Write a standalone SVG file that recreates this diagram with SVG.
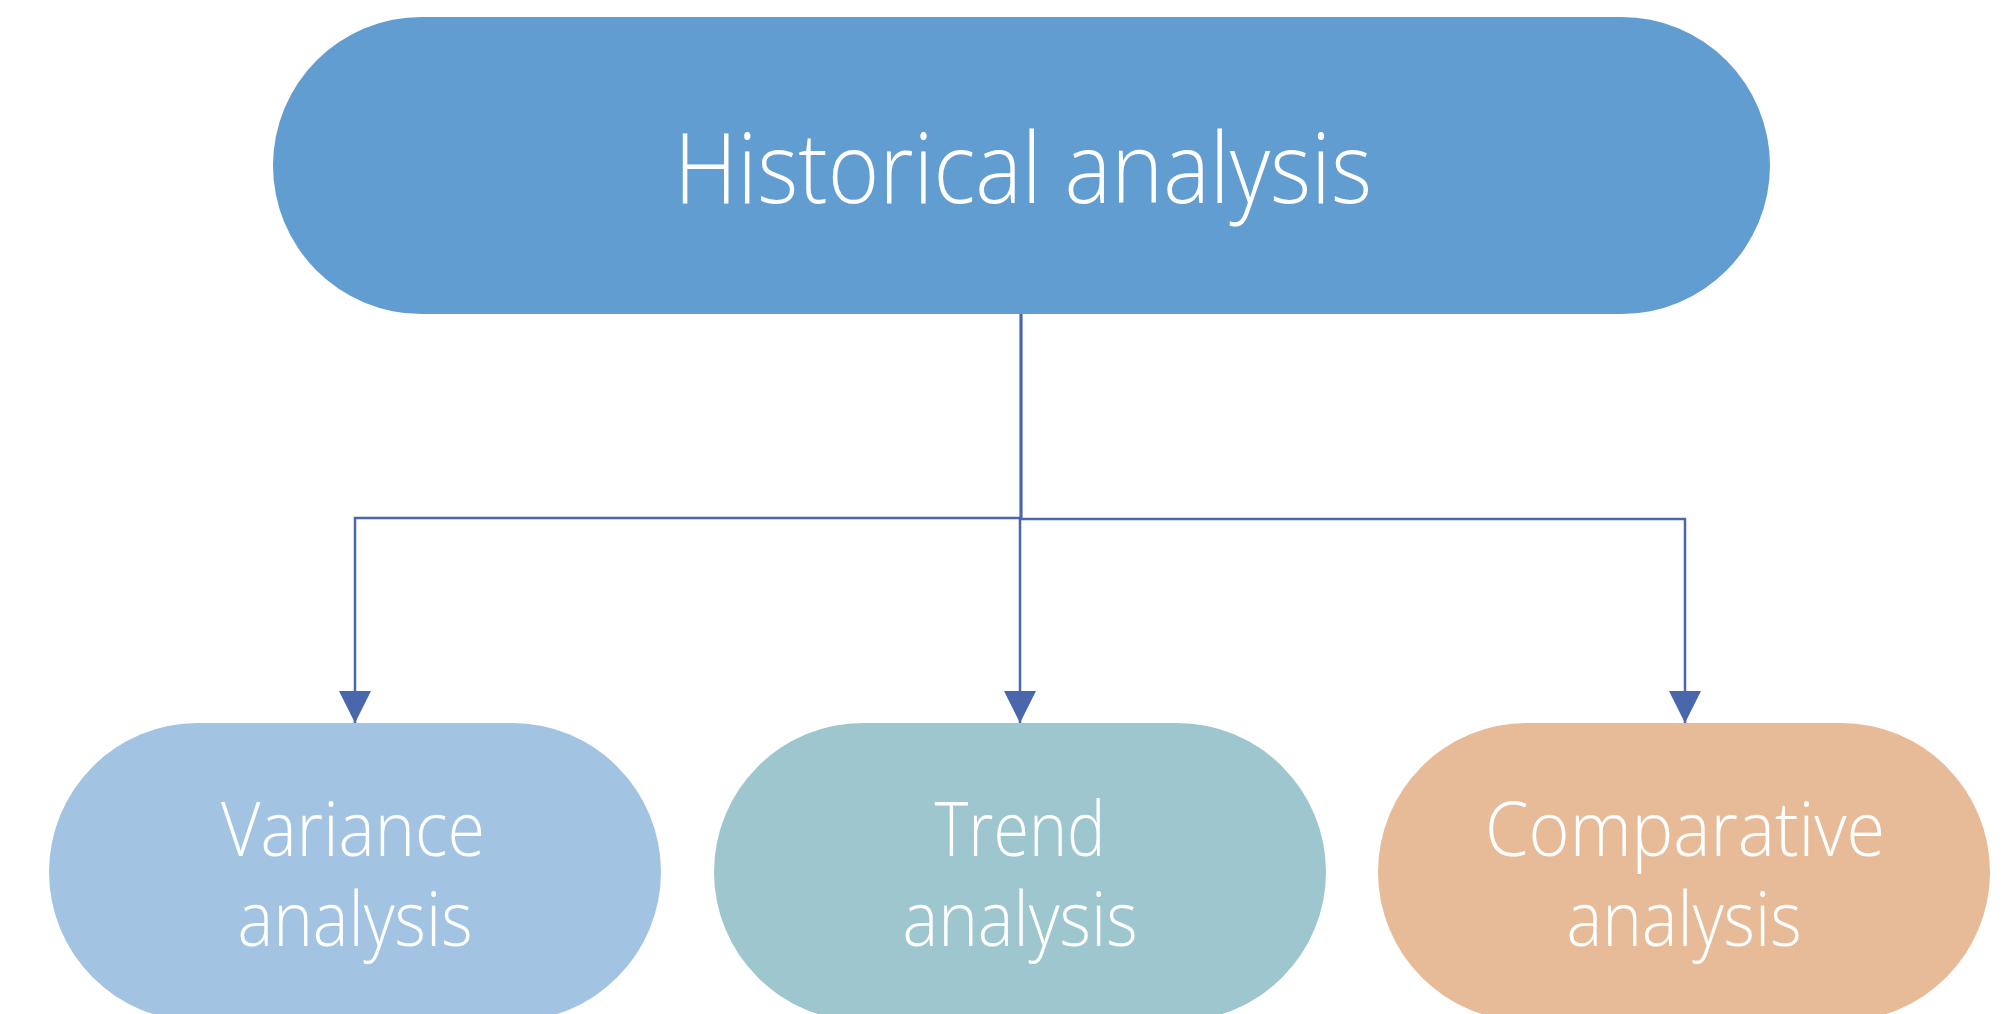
<svg xmlns="http://www.w3.org/2000/svg" width="2014" height="1014" viewBox="0 0 2014 1014">
<defs>
<style>
.lbl{font-family:"Open Sans","Liberation Sans",sans-serif;font-weight:300;fill:#ffffff;text-anchor:middle}
.top{font-size:98px}
.sub{font-size:76px}
.conn{fill:none;stroke:#4A66AC;stroke-width:2.5}
</style>
<marker id="arr" markerUnits="userSpaceOnUse" markerWidth="34" markerHeight="34" viewBox="0 0 34 34" refX="33" refY="17" orient="auto">
<path d="M1,1 L33,17 L1,33 Z" fill="#4A66AC"/>
</marker>
</defs>
<rect width="2014" height="1014" fill="#ffffff"/>
<g id="node-historical">
<rect x="273" y="17" width="1497" height="297" rx="148.5" ry="148.5" fill="#629DD1"/>
<text class="lbl top" x="1023" y="203" textLength="698" lengthAdjust="spacingAndGlyphs">Historical analysis</text>
</g>
<g id="node-variance">
<rect x="49" y="723" width="612" height="298" rx="149" ry="149" fill="#A2C4E2"/>
<text class="lbl sub" x="353" y="856" textLength="264" lengthAdjust="spacingAndGlyphs">Variance</text>
<text class="lbl sub" x="355" y="946" textLength="235" lengthAdjust="spacingAndGlyphs">analysis</text>
</g>
<g id="node-trend">
<rect x="714" y="723" width="612" height="298" rx="149" ry="149" fill="#9DC6CE"/>
<text class="lbl sub" x="1020" y="856" textLength="171" lengthAdjust="spacingAndGlyphs">Trend</text>
<text class="lbl sub" x="1020" y="946" textLength="235" lengthAdjust="spacingAndGlyphs">analysis</text>
</g>
<g id="node-comparative">
<rect x="1378" y="723" width="612" height="298" rx="149" ry="149" fill="#E8BB98"/>
<text class="lbl sub" x="1685" y="856" textLength="400" lengthAdjust="spacingAndGlyphs">Comparative</text>
<text class="lbl sub" x="1684" y="946" textLength="235" lengthAdjust="spacingAndGlyphs">analysis</text>
</g>
<g id="connectors">
<path class="conn" d="M1021,314 L1021,518 L355,518 L355,723" marker-end="url(#arr)"/>
<path class="conn" d="M1021,314 L1021,518 L1020,518 L1020,723" marker-end="url(#arr)"/>
<path class="conn" d="M1021,314 L1021,519 L1685,519 L1685,723" marker-end="url(#arr)"/>
</g>
</svg>
